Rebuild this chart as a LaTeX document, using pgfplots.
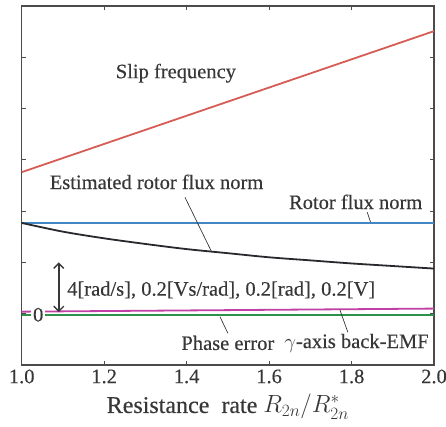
\documentclass[border=0pt]{standalone}
\usepackage{pgfplots}
\pgfplotsset{compat=1.18}
\usetikzlibrary{arrows.meta}
\usepackage{fontspec}
\setmainfont[FakeBold=0.35,AutoFakeBold=0.35]{Liberation Serif}

\definecolor{slipred}{RGB}{214,92,86}
\definecolor{fluxblue}{RGB}{66,135,195}
\definecolor{estblack}{RGB}{40,40,45}
\definecolor{emfpink}{RGB}{192,64,165}
\definecolor{phgreen}{RGB}{45,145,75}
\definecolor{framegray}{RGB}{75,75,75}
\definecolor{txt}{RGB}{55,55,55}

\begin{document}
\begin{tikzpicture}[font=\fontsize{20.5}{23}\selectfont\bfseries]
\begin{axis}[
  name=ax,
  scale only axis,
  width=412.3pt, height=359pt,
  xmin=1, xmax=2, ymin=-1, ymax=6,
  xtick={1,1.2,...,2.0},
  xticklabels={1.0,1.2,1.4,1.6,1.8,2.0},
  ytick={-1,0,...,6},
  yticklabels={},
  tick align=inside,
  major tick length=4pt,
  axis line style={framegray, line width=1.2pt},
  tick style={framegray, line width=0.9pt},
  tick label style={font=\fontsize{20.5}{23}\selectfont\bfseries, text=txt},
  /pgf/number format/assume math mode=true,
  xticklabel style={yshift=-1pt},
  xlabel={Resistance\ \ rate $R_{2n}/R^{*}_{2n}$},
  xlabel style={font=\fontsize{24}{27}\selectfont\bfseries, text=txt, yshift=-4pt},
  clip=false,
]
% slip frequency grows in proportion to the resistance rate
\addplot[slipred, line width=1.8pt] coordinates {
  (1.0,2.76) (1.2,3.31) (1.4,3.86) (1.6,4.41) (1.8,4.96) (2.0,5.51)};
% true rotor flux norm
\addplot[fluxblue, line width=1.8pt] coordinates {(1.0,1.77) (2.0,1.77)};
% estimated rotor flux norm
\addplot[estblack, line width=1.8pt, smooth] coordinates {
  (1.0,1.77) (1.1,1.60) (1.2,1.47) (1.3,1.36) (1.4,1.26) (1.5,1.18)
  (1.6,1.10) (1.7,1.04) (1.8,0.98) (1.9,0.93) (2.0,0.88)};
% gamma-axis back-EMF
\addplot[emfpink, line width=1.8pt] coordinates {(1.0,0.04) (1.5,0.07) (2.0,0.10)};
% phase error
\addplot[phgreen, line width=1.8pt] coordinates {(1.0,-0.03) (2.0,-0.03)};

% labels and pointers
\node[text=txt] at (axis cs:1.374,4.69) {Slip frequency};
\node[text=txt] at (axis cs:1.327,2.57) {Estimated rotor flux norm};
\draw[txt, line width=0.7pt] (axis cs:1.396,2.27) -- (axis cs:1.461,1.20);
\node[text=txt] at (axis cs:1.810,2.18) {Rotor flux norm};
\draw[txt, line width=0.7pt] (axis cs:1.838,1.98) -- (axis cs:1.846,1.79);
\draw[txt, line width=1.4pt, {Straight Barb[length=5pt,width=10pt]}-{Straight Barb[length=5pt,width=10pt]}] (axis cs:1.090,1.0) -- (axis cs:1.090,0.03);
\node[text=txt, anchor=west, inner sep=0pt] at (axis cs:1.110,0.46) {4[rad/s], 0.2[Vs/rad], 0.2[rad], 0.2[V]};
\node[text=txt, fill=white, inner sep=2pt] at (axis cs:1.040,-0.02) {0};
\node[text=txt] at (axis cs:1.500,-0.57) {Phase error};
\node[text=txt] at (axis cs:1.812,-0.57) {$\gamma$-axis back-EMF};
\draw[txt, line width=0.7pt] (axis cs:1.500,-0.38) -- (axis cs:1.481,-0.06);
\draw[txt, line width=0.7pt] (axis cs:1.791,-0.36) -- (axis cs:1.772,0.07);
\end{axis}
\pgfresetboundingbox
\path[use as bounding box] ([shift={(-21.7pt,-62pt)}]ax.south west) rectangle ([shift={(12pt,6pt)}]ax.north east);
\end{tikzpicture}
\end{document}
